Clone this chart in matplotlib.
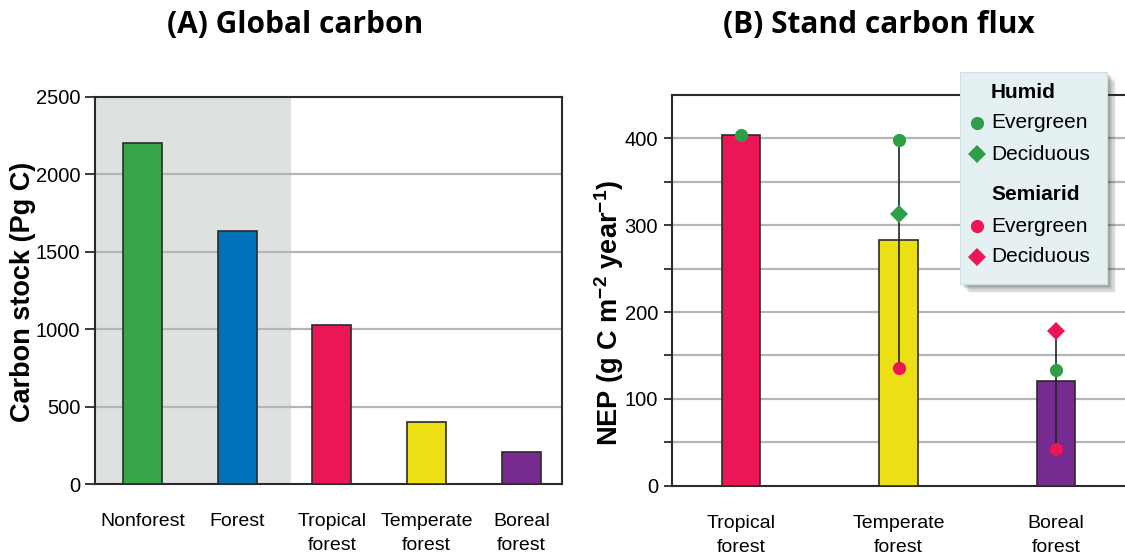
import numpy as np
import matplotlib
matplotlib.use("Agg")
import matplotlib.pyplot as plt
from matplotlib.patches import Rectangle
from matplotlib.lines import Line2D

# ---- data -------------------------------------------------------------
stock_categories = ["Nonforest", "Forest", "Tropical\nforest", "Temperate\nforest", "Boreal\nforest"]
stock_values = [2200, 1635, 1025, 400, 205]
stock_colors = ["#36a548", "#0071bb", "#ec1556", "#ece015", "#772a8f"]

flux_categories = ["Tropical\nforest", "Temperate\nforest", "Boreal\nforest"]
flux_values = [404, 283, 121]
flux_colors = ["#ec1556", "#ece015", "#772a8f"]

humid_evergreen = [404, 398, 133]
humid_deciduous = [np.nan, 313, np.nan]
semiarid_evergreen = [np.nan, 135, 42]
semiarid_deciduous = [np.nan, np.nan, 178]

stock_ticks = [0, 500, 1000, 1500, 2000, 2500]
flux_ticks = [0, 100, 200, 300, 400]

# ---- style ------------------------------------------------------------
plt.rcParams["font.family"] = ["Liberation Sans", "DejaVu Sans"]
plt.rcParams["mathtext.fontset"] = "custom"
plt.rcParams["mathtext.rm"] = "Liberation Sans:bold"
plt.rcParams["mathtext.default"] = "rm"

GREEN = "#2f9e49"
RED = "#ec1556"
GRID = "#b4b6b6"
SPINE = "#2b2b2b"
TITLE_FONT = ["Open Sans", "DejaVu Sans"]

fig = plt.figure(figsize=(11.25, 5.59), dpi=100)
W, H = 1125, 559


def fig_box(x0, y0, x1, y1):
    return [x0 / W, 1 - y1 / H, (x1 - x0) / W, (y1 - y0) / H]


# ---- (A) global carbon ------------------------------------------------
axA = fig.add_axes(fig_box(95, 97, 562, 484))
xA = np.arange(len(stock_categories))
axA.set_xlim(-0.50, 4.43)
axA.set_ylim(0, 2500)
axA.axvspan(-0.5, 1.57, color="#dde1df", zorder=0, lw=0)
for t in stock_ticks[1:-1]:
    axA.axhline(t, color=GRID, lw=1.6, zorder=1)
axA.bar(xA, stock_values, width=0.41, color=stock_colors,
        edgecolor=SPINE, linewidth=1.2, zorder=3)
axA.set_yticks(stock_ticks)
axA.set_xticks(xA)
axA.set_xticklabels(stock_categories, fontsize=14, linespacing=1.55)
axA.tick_params(axis="x", length=0, pad=21)
axA.tick_params(axis="y", length=7, width=1.3, color=SPINE, labelsize=14.5, pad=3.5)
for s in axA.spines.values():
    s.set_color(SPINE)
    s.set_linewidth(1.5)
fig.text(23 / W, 1 - 292 / H, "Carbon stock (Pg C)", rotation=90,
         ha="center", va="center", fontsize=19.5, fontweight="bold")
fig.text(295 / W, 1 - 25 / H, "(A) Global carbon", ha="center", va="center",
         fontsize=21.5, fontweight="bold", family=TITLE_FONT)

# ---- (B) stand carbon flux --------------------------------------------
axB = fig.add_axes(fig_box(672, 95, 1125, 485.7))
xB = np.arange(len(flux_categories))
axB.set_xlim(-0.44, 2.44)
axB.set_ylim(0, 450)
for t in range(50, 450, 50):
    axB.axhline(t, color=GRID, lw=1.6, zorder=1)
axB.bar(xB, flux_values, width=0.243, color=flux_colors,
        edgecolor=SPINE, linewidth=1.2, zorder=3)

series = np.array([humid_evergreen, humid_deciduous,
                   semiarid_evergreen, semiarid_deciduous], dtype=float)
lo = np.nanmin(series, axis=0)
hi = np.nanmax(series, axis=0)
axB.vlines(xB, lo, hi, color="#222222", lw=1.2, zorder=4)
axB.plot(xB, humid_evergreen, "o", color=GREEN, ms=9.5, mew=0, zorder=5)
axB.plot(xB, humid_deciduous, "D", color=GREEN, ms=9, mew=0, zorder=5)
axB.plot(xB, semiarid_evergreen, "o", color=RED, ms=9.5, mew=0, zorder=5)
axB.plot(xB, semiarid_deciduous, "D", color=RED, ms=9, mew=0, zorder=5)

axB.set_yticks(flux_ticks)
axB.set_yticks(range(50, 450, 100), minor=True)
axB.set_xticks(xB)
axB.set_xticklabels(flux_categories, fontsize=14, linespacing=1.55)
axB.tick_params(axis="x", length=0, pad=21)
axB.tick_params(axis="y", which="both", length=6, width=1.3, color=SPINE,
                labelsize=14.5, pad=4)
for s in axB.spines.values():
    s.set_color(SPINE)
    s.set_linewidth(1.5)
axB.spines["right"].set_visible(False)
fig.text(609 / W, 1 - 313 / H, r"NEP (g C m$^{-2}$ year$^{-1}$)", rotation=90,
         ha="center", va="center", fontsize=19.5, fontweight="bold")
fig.text(879 / W, 1 - 25 / H, "(B) Stand carbon flux", ha="center", va="center",
         fontsize=21.5, fontweight="bold", family=TITLE_FONT)

# ---- legend panel with soft shadow ------------------------------------
lx0, ly0, lx1, ly1 = 960, 72, 1107, 284
for i, a in enumerate([0.06, 0.07, 0.08, 0.09, 0.10, 0.12]):
    off = 9 - i * 1.2
    fig.patches.append(Rectangle(((lx0 + off) / W, 1 - (ly1 + off) / H),
                                 (lx1 - lx0) / W, (ly1 - ly0) / H,
                                 transform=fig.transFigure, color="#303030",
                                 alpha=a, lw=0, zorder=10))
fig.patches.append(Rectangle((lx0 / W, 1 - ly1 / H), (lx1 - lx0) / W,
                             (ly1 - ly0) / H, transform=fig.transFigure,
                             facecolor="#e4f0f2", edgecolor="#d0dfe2",
                             lw=0.8, zorder=11))

legend_rows = [
    (93, None, None, "Humid", True),
    (123, "o", GREEN, "Evergreen", False),
    (154, "D", GREEN, "Deciduous", False),
    (195, None, None, "Semiarid", True),
    (226, "o", RED, "Evergreen", False),
    (257, "D", RED, "Deciduous", False),
]
for y, mk, col, label, bold in legend_rows:
    fig.text(991 / W, 1 - y / H, label, ha="left", va="center",
             fontsize=15, fontweight="bold" if bold else "normal", zorder=12)
    if mk is not None:
        fig.lines.append(Line2D([977 / W], [1 - y / H], marker=mk, color=col,
                                ms=9.5 if mk == "o" else 9, mew=0,
                                transform=fig.transFigure, zorder=12))

fig.savefig("out.png", dpi=100, facecolor="white")
